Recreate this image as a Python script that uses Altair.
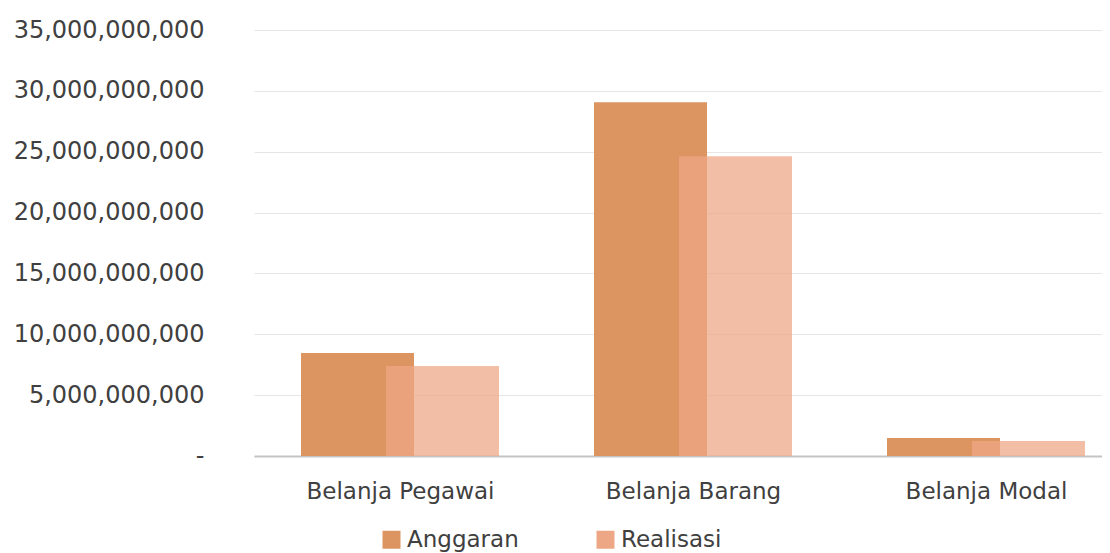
import altair as alt
import pandas as pd

categories = ["Belanja Pegawai", "Belanja Barang", "Belanja Modal"]
anggaran = [8.46e9, 29.06e9, 1.48e9]
realisasi = [7.39e9, 24.63e9, 1.23e9]
series = ["Anggaran", "Realisasi"]
y_ticks = [0, 5e9, 10e9, 15e9, 20e9, 25e9, 30e9, 35e9]

rows = []
for c, a, r in zip(categories, anggaran, realisasi):
    rows.append({"kategori": c, "seri": "Anggaran", "nilai": a})
    rows.append({"kategori": c, "seri": "Realisasi", "nilai": r})
df = pd.DataFrame(rows)

FONT = "DejaVu Sans"
color_scale = alt.Scale(domain=series, range=["#DC9560", "#EDA785"])

x_enc = alt.X(
    "kategori:N",
    sort=categories,
    scale=alt.Scale(range=[0, 879], paddingInner=0, paddingOuter=0),
    axis=alt.Axis(
        title=None, labelAngle=0, ticks=False, grid=False, domainColor="#c4c4c4", domainWidth=2,
        labelFont=FONT, labelFontSize=23, labelColor="#404040", labelPadding=24,
        labelLimit=0,
    ),
)
y_enc = alt.Y(
    "nilai:Q",
    scale=alt.Scale(domain=[0, 35e9], nice=False),
    axis=alt.Axis(
        title=None, values=y_ticks, ticks=False, domain=False,
        labelExpr="datum.value == 0 ? '-' : format(datum.value, ',.0f')",
        labelFont=FONT, labelFontSize=24, labelColor="#404040", labelPadding=50,
        labelLimit=0, gridColor="#e6e6e6", gridWidth=1,
    ),
)
color_enc = alt.Color(
    "seri:N", scale=color_scale,
    legend=alt.Legend(
        title=None, orient="none", direction="horizontal", legendX=126, legendY=498,
        symbolType="square", symbolSize=324, symbolStrokeWidth=0, symbolOpacity=1,
        labelFont=FONT, labelFontSize=23, labelColor="#404040", columnPadding=75,
        labelOffset=4, labelLimit=0,
    ),
)

base = alt.Chart(df)
bar_a = base.transform_filter("datum.seri == 'Anggaran'").mark_bar(width=113, xOffset=-43).encode(
    x=x_enc, y=y_enc, color=color_enc
)
bar_r = base.transform_filter("datum.seri == 'Realisasi'").mark_bar(width=113, xOffset=42, opacity=0.74).encode(
    x=x_enc, y=y_enc, color=color_enc
)

chart = alt.layer(bar_a, bar_r).properties(
    width=846, height=426,
    background="white",
    autosize=alt.AutoSizeParams(type="none"),
    padding={"left": 246, "top": 22, "right": 2, "bottom": 100},
).configure_view(stroke="transparent", strokeWidth=0)

chart.save("out.html", embed_options={"renderer": "svg", "actions": False})
